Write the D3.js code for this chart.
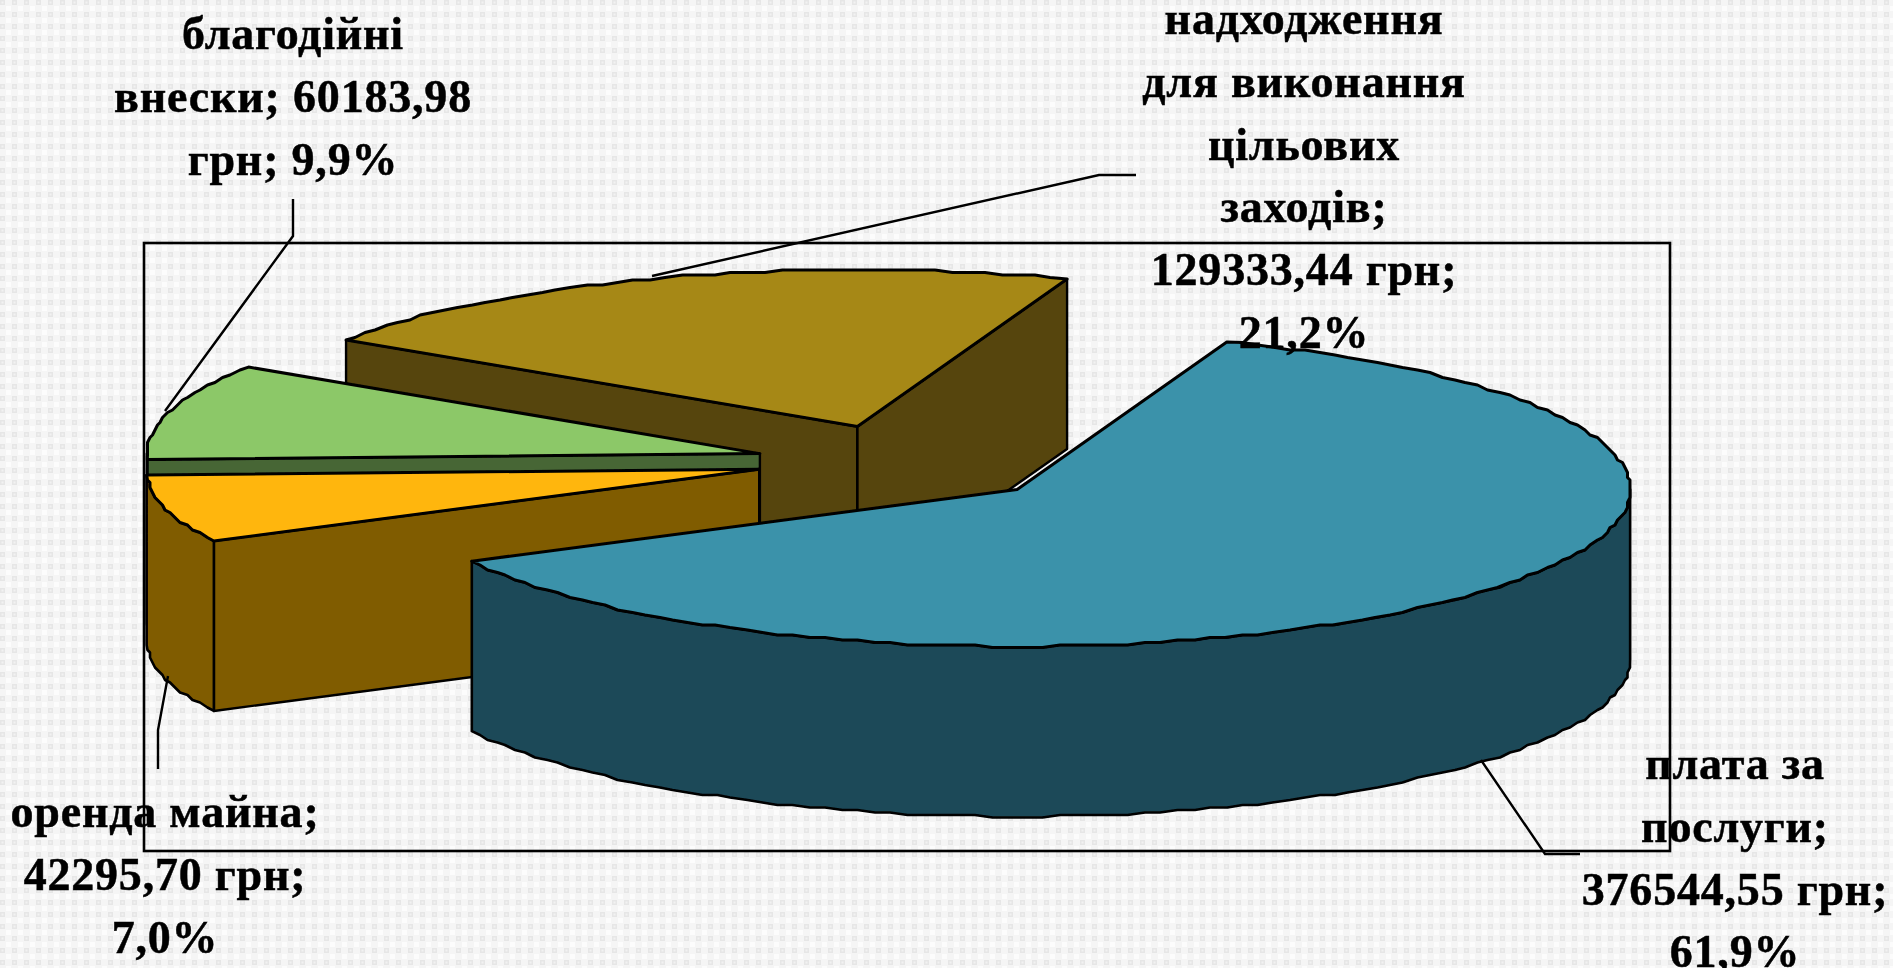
<!DOCTYPE html>
<html><head><meta charset="utf-8">
<script src="https://cdnjs.cloudflare.com/ajax/libs/d3/7.8.5/d3.min.js"></script>
<style>html,body{margin:0;padding:0;background:#f4f4f4;overflow:hidden}svg{display:block}</style>
</head><body>
<svg id="c" width="1893" height="968"></svg>
<script>
const categories = ["плата за послуги","оренда майна","благодійні внески","надходження для виконання цільових заходів"];
const values = [376544.55, 42295.70, 60183.98, 129333.44];
const topColors = ["#3A92AA","#FFB60B","#8CC868","#A68815"];
const sideColors = ["#1E4958","#805B05","#476636","#57440C"];
const labelLines = [
  ["плата за","послуги;","376544,55 грн;","61,9%"],
  ["оренда майна;","42295,70 грн;","7,0%"],
  ["благодійні","внески; 60183,98","грн; 9,9%"],
  ["надходження","для виконання","цільових","заходів;","129333,44 грн;","21,2%"]
];
const labelCenterX = [1735,165,293,1304];
const labelFirstBaseline = [779,827,49,34];
const lineStep = 62.8;
const leaders = [
  [[1481,760],[1545,854],[1580,854]],
  [[168,676],[158,730],[158,769]],
  [[293,199],[293,236],[165,411]],
  [[652,276],[1099,175],[1136,175]]
];
const sliceNudgeY = [0,-4.5,0,-1];
const startAngle = 20*Math.PI/180;
const cx = 904.5, cy = 464, rx = 613, ry = 157, depth = 170, explode = 0.245, grid = 2.5;

const svg = d3.select("#c");
const defs = svg.append("defs");
defs.append("filter").attr("id","soft").append("feGaussianBlur").attr("stdDeviation",0.45);
const pat = defs.append("pattern").attr("id","bg").attr("width",12).attr("height",12).attr("patternUnits","userSpaceOnUse");
pat.append("rect").attr("width",12).attr("height",12).attr("fill","#f5f5f5");
pat.append("rect").attr("x",0).attr("y",0).attr("width",5).attr("height",5).attr("fill","#e6e6e6");
pat.append("rect").attr("x",1.5).attr("y",1.5).attr("width",2).attr("height",2).attr("fill","#f2f2f2");
pat.append("rect").attr("x",6).attr("y",6).attr("width",5).attr("height",5).attr("fill","#fcfcfc");
svg.append("rect").attr("width",1893).attr("height",968).attr("fill","url(#bg)");

const root = svg.append("g").attr("filter","url(#soft)");
const pie = d3.pie().sort(null).value(d=>d).startAngle(startAngle).endAngle(startAngle+2*Math.PI);
const arcs = pie(values);
const q = v => Math.round(v/grid)*grid;
const line = d3.line();
const chart = root.append("g").attr("stroke","#000").attr("stroke-linejoin","round");

function origin(a,i){const m=(a.startAngle+a.endAngle)/2;return [cx+explode*rx*Math.sin(m),cy-explode*ry*Math.cos(m)+sliceNudgeY[i]];}
function rim(o,t,dz=0){return [o[0]+rx*Math.sin(t),o[1]-ry*Math.cos(t)+dz];}
function arcPts(o,t0,t1,dz=0){
  const n=Math.max(2,Math.ceil(Math.abs(t1-t0)/(1.6*Math.PI/180)));
  return d3.range(n+1).map(i=>{const p=rim(o,t0+(t1-t0)*i/n,dz);return (i==0||i==n)?p:[q(p[0]),q(p[1])];});
}
function wall(o,t){const r=rim(o,t);return [o,r,[r[0],r[1]+depth],[o[0],o[1]+depth]];}
function drawSlice(i){
  const a=arcs[i],o=origin(a,i),g=chart.append("g");
  const f=sideColors[i];
  // cut faces that look toward the viewer
  if(Math.sin(a.startAngle)<0) g.append("path").attr("d",line(wall(o,a.startAngle))+"Z").attr("fill",f).attr("stroke-width",2.4);
  if(Math.sin(a.endAngle)>0) g.append("path").attr("d",line(wall(o,a.endAngle))+"Z").attr("fill",f).attr("stroke-width",2.4);
  // outer rim visible on the front half of the ellipse
  const lo=Math.max(a.startAngle,Math.PI/2),hi=Math.min(a.endAngle,3*Math.PI/2);
  if(hi>lo){
    const top=arcPts(o,lo,hi),bot=arcPts(o,hi,lo,depth);
    g.append("path").attr("d",line(top.concat(bot))+"Z").attr("fill",f).attr("stroke-width",2.6);
  }
  const ptsTop=[o].concat(arcPts(o,a.startAngle,a.endAngle));
  g.append("path").attr("d",line(ptsTop)+"Z").attr("fill",topColors[i]).attr("stroke-width",3);
}
// paint from back to front
[3,2,1,0].forEach(drawSlice);

// frame
root.append("rect").attr("x",144).attr("y",243).attr("width",1526).attr("height",608)
  .attr("fill","none").attr("stroke","#000").attr("stroke-width",2.6);
// leader lines
root.append("g").selectAll("path").data(leaders).join("path").attr("d",d=>line(d))
  .attr("fill","none").attr("stroke","#000").attr("stroke-width",2.4);
// labels
const lab = root.append("g").attr("font-family","'Liberation Serif',serif").attr("font-weight",700)
  .attr("font-size",46).attr("letter-spacing","0.8").attr("text-anchor","middle").attr("fill","#000")
  .attr("stroke","#000").attr("stroke-width",0.5);
labelLines.forEach((ls,i)=>{
  const t=lab.append("text");
  ls.forEach((s,j)=>t.append("tspan").attr("x",labelCenterX[i]).attr("y",labelFirstBaseline[i]+j*lineStep).text(s));
});
</script></body></html>
